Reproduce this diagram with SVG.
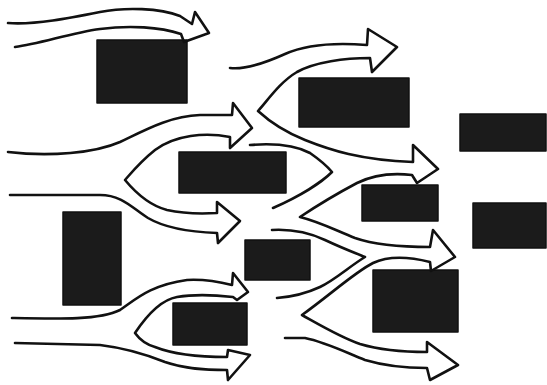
<svg xmlns="http://www.w3.org/2000/svg" width="547" height="385" viewBox="0 0 547 385">
<style>
.blk{fill:#1b1b1b;stroke:#111;stroke-width:1.5;stroke-linejoin:round}
.flow{fill:none;stroke:#111;stroke-width:2.6;stroke-linejoin:round;stroke-linecap:round}
</style>
<rect width="547" height="385" fill="#ffffff"/>
<g id="blocks">
<g id="b1"><rect class="blk" x="97" y="40" width="90" height="63"/></g>
<g id="b2"><rect class="blk" x="179" y="152" width="107" height="41"/></g>
<g id="b3"><rect class="blk" x="299" y="78" width="110" height="49"/></g>
<g id="b4"><rect class="blk" x="460" y="114" width="86" height="37"/></g>
<g id="b5"><rect class="blk" x="362" y="185" width="76" height="36"/></g>
<g id="b6"><rect class="blk" x="473" y="203" width="73" height="45"/></g>
<g id="b7"><rect class="blk" x="63" y="212" width="58" height="93"/></g>
<g id="b8"><rect class="blk" x="245" y="240" width="65" height="40"/></g>
<g id="b9"><rect class="blk" x="373" y="270" width="85" height="62"/></g>
<g id="b10"><rect class="blk" x="173" y="303" width="74" height="42"/></g>
</g>
<g id="flows">
<path class="flow" d="M8,23 C35,25 70,18 100,12 C125,7 160,8 180,16 L192,24 L195,12 L209,33 L184,42 L181,34 C160,27 130,25 100,29 C70,33 40,44 15,47"/>
<path class="flow" d="M8,152 C50,157 95,153 120,142 C145,130 170,116 200,115 L232,115 L233,103 L252,128 L230,148 L230,137 C205,132 175,135 155,150 C140,162 132,172 125,180 C135,192 148,205 167,210 C185,214 200,214 217,213 L217,202 L240,221 L218,243 L217,233 C190,232 165,228 148,218 C132,208 122,195 100,195 L10,195"/>
<path class="flow" d="M230,68 C245,70 265,63 285,54 C305,45 330,42 367,45 L368,29 L397,47 L372,72 L370,58 C345,58 315,62 297,72 C280,82 268,100 258,111 C270,122 285,132 305,140 C330,150 360,160 413,162 L413,145 L438,169 L417,183 L412,175 C395,173 375,174 357,183 C340,192 318,205 300,217 C320,222 335,230 355,238 C375,245 400,247 430,247 L433,230 L455,257 L431,271 L430,262 C410,257 390,255 373,263 C355,272 330,295 302,315 C320,325 340,337 360,344 C380,350 400,352 427,352 L427,342 L458,365 L430,380 L427,368 C405,368 385,366 365,360 C345,352 325,342 305,338 L285,338"/>
<path class="flow" d="M250,145 C275,143 295,145 310,153 C320,160 327,166 332,172 C322,182 300,196 273,208"/>
<path class="flow" d="M272,230 C290,229 310,233 325,240 C342,248 355,253 365,257 C350,266 335,280 320,287 C305,294 290,297 277,298"/>
<path class="flow" d="M12,318 C60,319 100,320 120,310 C135,300 150,285 187,280 C205,279 220,282 232,285 L233,273 L248,292 L237,300 L233,297 C215,295 195,294 177,297 C160,300 145,318 135,333 C140,340 148,345 155,347 C170,353 190,357 227,357 L228,350 L250,355 L228,380 L227,370 C205,370 185,369 165,362 C145,354 125,348 100,345 L15,343"/>
</g>
</svg>
